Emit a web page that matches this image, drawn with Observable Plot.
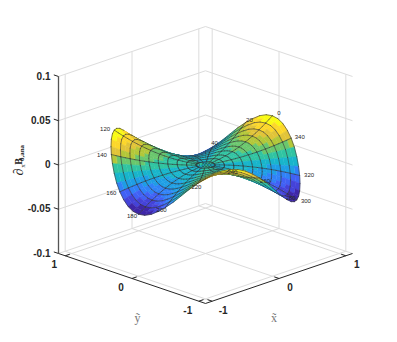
<!DOCTYPE html>
<html><head><meta charset="utf-8">
<style>html,body{margin:0;padding:0;background:#fff}svg{display:block}</style>
<script src="https://cdn.jsdelivr.net/npm/d3@7"></script>
<script src="https://cdn.jsdelivr.net/npm/@observablehq/plot@0.6"></script>
</head><body><div id="chart"></div>
<script>
// Axis ticks
const xTicks = [-1, 0, 1];
const yTicks = [-1, 0, 1];
const zTicks = [-0.1, -0.05, 0, 0.05, 0.1];
const zTickLabels = ["-0.1", "-0.05", "0", "0.05", "0.1"];
// Surface height on the rim, read every 5 degrees from 0 to 355
const rimHeight = [
  .030,.029,.026,.021,.015,.008,0,-.008,-.015,-.021,-.026,-.029,-.030,-.029,-.026,-.021,-.015,-.008,0,.008,.015,.021,.026,.029,
  .030,.029,.026,.021,.015,.008,0,-.008,-.015,-.021,-.026,-.029,-.030,-.029,-.026,-.021,-.015,-.008,0,.008,.015,.021,.026,.029,
  .030,.029,.026,.021,.015,.008,0,-.008,-.015,-.021,-.026,-.029,-.030,-.029,-.026,-.021,-.015,-.008,0,.008,.015,.021,.026,.029
];
// Radial mesh and share of rim height reached at each radius
const radii = [0,.05,.1,.15,.2,.25,.3,.35,.4,.45,.5,.55,.6,.65,.7,.75,.8,.85,.9,.95,1];
const radialShare = [0,.003,.01,.023,.04,.063,.09,.123,.16,.203,.25,.303,.36,.423,.49,.563,.64,.723,.81,.903,1];
// Angle labels that are visible round the rim
const angleLabels = [0,20,40,120,140,160,180,200,220,240,260,280,300,320,340];
// Colour bands
const bandEdges = [-.025,-.02,-.015,-.01,-.005,0,.005,.01,.015,.02,.025];
const bandColors = ["#3E26A8","#4443D9","#4061F5","#3082F7","#1E9EE5","#18B5CB","#30C4A2","#6AC76D","#B3C739","#E1C438","#FCD72B","#F9FB14"];

const LIM = 1.1, ZMIN = -0.1, ZMAX = 0.1, NA = rimHeight.length, LINE = 9;
const rad = a => a * Math.PI / 180;
const U = (x, y) => x - y;
const V = (x, y, z) => 0.34 * (x + y) + 13.25 * z;
const depth = (x, y, z) => 62.8 * (x + y) - 320 * z;
const P = (i, j) => {
  const a = rad(j * 5), r = radii[i];
  return {x: r * Math.cos(a), y: r * Math.sin(a), z: rimHeight[j % NA] * radialShare[i]};
};
const pt = p => [U(p.x, p.y), V(p.x, p.y, p.z)];

const items = [];
for (let i = 0; i < radii.length - 1; i++) for (let j = 0; j < NA; j++) {
  const c = [P(i, j), P(i + 1, j), P(i + 1, j + 1), P(i, j + 1)];
  const mz = d3.mean(c, p => p.z), mx = d3.mean(c, p => p.x), my = d3.mean(c, p => p.y);
  items.push({g: {type: "Polygon", coordinates: [[...c, c[0]].map(pt)]}, v: mz, w: 0.5, d: depth(mx, my, mz)});
}
const seg = (a, b) => {
  const mx = (a.x + b.x) / 2, my = (a.y + b.y) / 2, mz = (a.z + b.z) / 2;
  items.push({g: {type: "LineString", coordinates: [pt(a), pt(b)]}, v: LINE, w: 0.6, d: depth(mx, my, mz) - 9});
};
for (let i = 2; i < radii.length; i += 2) for (let j = 0; j < NA; j++) seg(P(i, j), P(i, j + 1));
for (let j = 0; j < NA; j += 4) for (let i = 2; i < radii.length - 1; i++) seg(P(i, j), P(i + 1, j));
items.sort((a, b) => b.d - a.d);

// Box grid
const grid = [];
const link = (a, b) => grid.push({x1: U(a[0], a[1]), y1: V(...a), x2: U(b[0], b[1]), y2: V(...b)});
for (const t of xTicks) { link([t, -LIM, ZMIN], [t, LIM, ZMIN]); link([t, LIM, ZMIN], [t, LIM, ZMAX]); }
for (const t of yTicks) { link([-LIM, t, ZMIN], [LIM, t, ZMIN]); link([LIM, t, ZMIN], [LIM, t, ZMAX]); }
for (const t of zTicks) { link([-LIM, LIM, t], [LIM, LIM, t]); link([LIM, LIM, t], [LIM, -LIM, t]); }

const seg3 = (a, b) => ({x1: U(a[0], a[1]), y1: V(...a), x2: U(b[0], b[1]), y2: V(...b)});
const floorAxes = [seg3([-LIM, -LIM, ZMIN], [LIM, -LIM, ZMIN]), seg3([-LIM, -LIM, ZMIN], [-LIM, LIM, ZMIN])];
const zAxis = [seg3([-LIM, LIM, ZMIN], [-LIM, LIM, ZMAX])];
const ticks = [
  ...xTicks.map(t => seg3([t, -LIM, ZMIN], [t, -LIM + 0.07, ZMIN])),
  ...yTicks.map(t => seg3([-LIM, t, ZMIN], [-LIM + 0.07, t, ZMIN])),
  ...zTicks.map(t => seg3([-LIM, LIM, t], [-LIM, LIM + 0.07, t]))
];
const rimLabels = angleLabels.map(a => {
  const j = a / 5, x = 1.1 * Math.cos(rad(a)), y = 1.1 * Math.sin(rad(a));
  return {u: U(x, y), v: V(x, y, rimHeight[j]), t: String(a)};
});
const tickText = {fontFamily: "Liberation Sans, Arial, sans-serif", fontWeight: "bold", fontSize: 10, fill: "#262626"};
const zl = {u: U(-LIM, LIM), v: V(-LIM, LIM, 0)};
const zLabel = (t, dx, dy, fontSize, extra = {}) => Plot.text([zl], {x: "u", y: "v", text: () => t, dx, dy, fontSize, rotate: -90, textAnchor: "middle", fontFamily: "Liberation Serif, serif", fill: "#262626", ...extra});

const chart = Plot.plot({
  width: 397, height: 342, margin: 0, style: {background: "#fff"},
  x: {domain: [-2.2, 2.2], range: [58, 352], axis: null},
  y: {domain: [-1, 1], range: [231.3, 97.7], axis: null},
  color: {type: "threshold", domain: [...bandEdges, 1], range: [...bandColors, "#333333"]},
  marks: [
    Plot.link(grid, {x1: "x1", y1: "y1", x2: "x2", y2: "y2", stroke: "#dcdcdc", strokeWidth: 1}),
    Plot.link(floorAxes, {x1: "x1", y1: "y1", x2: "x2", y2: "y2", stroke: "#262626", strokeWidth: 1}),
    Plot.link(zAxis, {x1: "x1", y1: "y1", x2: "x2", y2: "y2", stroke: "#555", strokeWidth: 1.3}),
    Plot.link(ticks, {x1: "x1", y1: "y1", x2: "x2", y2: "y2", stroke: "#262626", strokeWidth: 1}),
    Plot.geo(items, {geometry: "g", fill: "v", stroke: "v", strokeWidth: "w"}),
    Plot.text(rimLabels, {x: "u", y: "v", text: "t", fontSize: 6, fill: "#262626", fontFamily: "Liberation Sans, Arial, sans-serif"}),
    Plot.text([{u: 0, v: 0}], {x: "u", y: "v", text: () => "0.0000", fontSize: 5.5, fill: "#262626", fontFamily: "Liberation Sans, Arial, sans-serif"}),
    Plot.text(zTicks, {x: () => U(-LIM, LIM), y: t => V(-LIM, LIM, t), text: (t, i) => zTickLabels[i], dx: -8, textAnchor: "end", ...tickText}),
    Plot.text(xTicks, {x: t => U(t, -LIM), y: t => V(t, -LIM, ZMIN), text: t => String(t), dx: 11, dy: 9.5, ...tickText}),
    Plot.text(yTicks, {x: t => U(-LIM, t), y: t => V(-LIM, t, ZMIN), text: t => String(t), dx: -11, dy: 9.5, ...tickText}),
    Plot.text([{u: U(0, -LIM), v: V(0, -LIM, ZMIN)}], {x: "u", y: "v", text: () => "x\u0303", dx: -5, dy: 40, fontSize: 12, fontFamily: "Liberation Serif, serif", fill: "#777"}),
    Plot.text([{u: U(-LIM, 0), v: V(-LIM, 0, ZMIN)}], {x: "u", y: "v", text: () => "y\u0303", dx: 5.5, dy: 40, fontSize: 12, fontFamily: "Liberation Serif, serif", fill: "#777"}),
    zLabel("\u2202", -40, 7, 14, {fontStyle: "italic"}),
    zLabel("x", -36, 1, 7),
    zLabel("B", -40, -3.5, 10, {fontWeight: "bold"}),
    zLabel("0,ana", -36.5, -12, 7, {fontWeight: "bold"})
  ]
});
document.getElementById("chart").append(chart);
</script></body></html>
